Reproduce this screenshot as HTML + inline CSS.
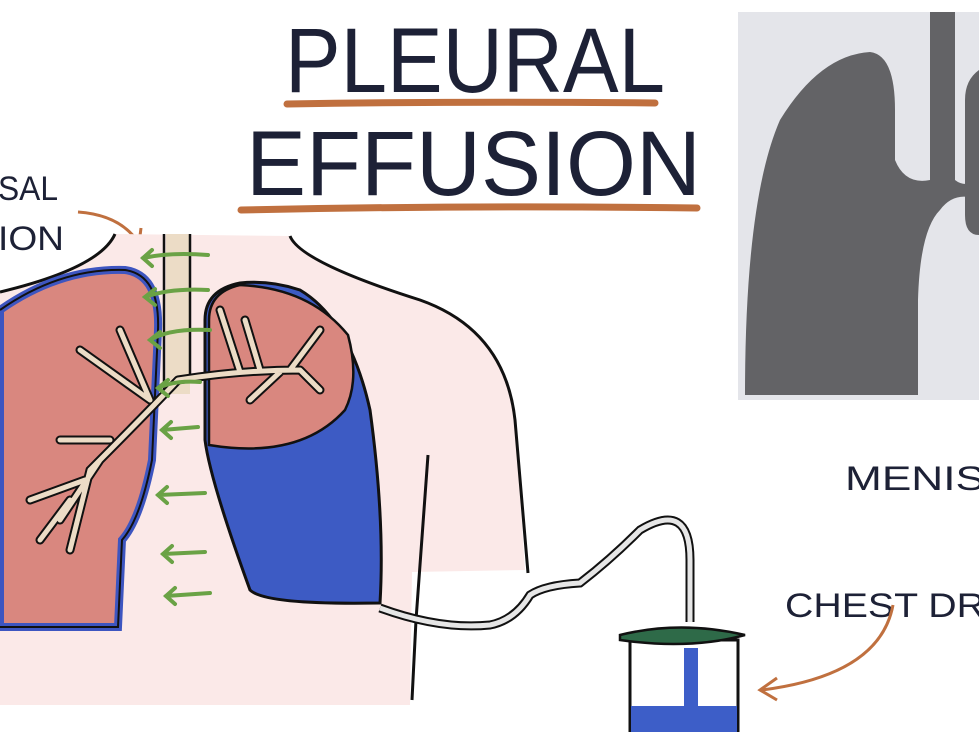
<!DOCTYPE html>
<html><head><meta charset="utf-8"><style>html,body{margin:0;padding:0;background:#fff}svg{display:block}</style></head>
<body>
<svg width="979" height="732" viewBox="0 0 979 732" xmlns="http://www.w3.org/2000/svg" font-family="Liberation Sans, sans-serif">
<rect width="979" height="732" fill="#fff"/>
<!-- title -->
<text x="285" y="92" font-size="92" textLength="380" lengthAdjust="spacingAndGlyphs" fill="#1d2136">PLEURAL</text>
<path d="M287 104 Q470 101 655 103" stroke="#c0703f" stroke-width="7" stroke-linecap="round" fill="none"/>
<text x="246" y="195" font-size="92" textLength="455" lengthAdjust="spacingAndGlyphs" fill="#1d2136">EFFUSION</text>
<path d="M241 210 Q470 205 697 208" stroke="#c0703f" stroke-width="7" stroke-linecap="round" fill="none"/>
<text x="-2" y="200" font-size="34" fill="#1d2136" textLength="60" lengthAdjust="spacingAndGlyphs">SAL</text>
<text x="-2" y="250" font-size="34" fill="#1d2136" textLength="66" lengthAdjust="spacingAndGlyphs">ION</text>
<path d="M78 212 Q120 215 138 242" stroke="#c0703f" stroke-width="3" fill="none"/>
<path d="M124 236 L139 244 L141 228" stroke="#c0703f" stroke-width="3" fill="none"/>
<!-- body -->
<path d="M0 292 Q100 268 115 234 L290 236 Q300 262 420 300 Q505 330 515 420 L525 570 L412 572 L410 705 L0 705 Z" fill="#fbe9e8"/>
<path d="M0 292 Q100 268 115 234" stroke="#111" stroke-width="3" fill="none"/>
<path d="M290 236 Q300 262 420 300 Q505 330 515 420 L528 573" stroke="#111" stroke-width="3" fill="none"/>
<path d="M428 455 L416 620 L412 700" stroke="#111" stroke-width="3" fill="none"/>
<!-- left lung -->
<path d="M0 310 Q60 268 125 270 Q160 275 158 330 L152 460 Q140 520 122 540 L118 627 L0 627 Z" fill="#d9877f" stroke="#3d55c0" stroke-width="8"/>
<path d="M0 310 Q60 268 125 270 Q160 275 158 330 L152 460 Q140 520 122 540 L118 627 L0 627" fill="none" stroke="#111" stroke-width="2"/>
<!-- trachea -->
<rect x="166" y="234" width="24" height="160" fill="#ecdcc6"/>
<path d="M164 234 V390 M190 234 V378" stroke="#111" stroke-width="2.5"/>
<!-- right lung -->
<path d="M240 283 Q205 290 205 320 L205 440 Q210 480 250 590 Q265 605 380 603 Q385 520 370 410 Q350 320 300 290 Q270 280 240 283 Z" fill="#3d5bc4" stroke="#111" stroke-width="3"/>
<path d="M240 285 Q209 292 209 320 L209 445 Q300 460 345 410 Q360 380 348 335 Q310 288 240 285 Z" fill="#d9877f" stroke="#111" stroke-width="2.5"/>
<!-- bronchi -->
<g stroke="#111" stroke-width="9" fill="none" stroke-linecap="round">
<path d="M178 380 Q140 420 90 470 M150 400 L120 330 M150 400 L80 350 M110 440 L60 440 M100 460 L60 520 M85 480 L30 500 M90 470 L70 550 M70 500 L40 540 M178 380 Q240 370 300 370 M240 372 L220 310 M260 370 L245 320 M290 370 L320 330 M280 372 L250 400 M300 370 L320 390"/>
</g>
<g stroke="#ecdcc6" stroke-width="5" fill="none" stroke-linecap="round">
<path d="M178 380 Q140 420 90 470 M150 400 L120 330 M150 400 L80 350 M110 440 L60 440 M100 460 L60 520 M85 480 L30 500 M90 470 L70 550 M70 500 L40 540 M178 380 Q240 370 300 370 M240 372 L220 310 M260 370 L245 320 M290 370 L320 330 M280 372 L250 400 M300 370 L320 390"/>
</g>
<!-- green arrows -->
<g stroke="#6aa245" stroke-width="4" fill="none" stroke-linecap="round">
<path d="M208 255 Q170 252 143 258 M152 250 L143 258 L152 266"/>
<path d="M208 290 Q170 288 145 297 M155 289 L145 297 L155 305"/>
<path d="M210 330 Q170 328 150 340 M160 332 L150 340 L160 348"/>
<path d="M200 382 Q175 380 158 388 M168 380 L158 388 L168 396"/>
<path d="M198 427 L162 430 M171 422 L162 430 L171 438"/>
<path d="M205 493 L158 495 M167 487 L158 495 L167 503"/>
<path d="M205 552 L163 554 M172 546 L163 554 L172 562"/>
<path d="M210 593 L166 596 M175 588 L166 596 L175 604"/>
</g>
<!-- drain tube -->
<path d="M380 608 Q440 630 490 625 Q515 620 530 595 Q545 585 580 583 Q610 560 640 530 Q690 500 690 560 L690 622" stroke="#111" stroke-width="9" fill="none"/>
<path d="M380 608 Q440 630 490 625 Q515 620 530 595 Q545 585 580 583 Q610 560 640 530 Q690 500 690 560 L690 622" stroke="#e6e6e6" stroke-width="5" fill="none"/>
<!-- bottle -->
<rect x="630" y="640" width="108" height="100" fill="#fff" stroke="#111" stroke-width="3"/>
<rect x="684" y="648" width="14" height="60" fill="#3d5ec8"/>
<rect x="631" y="706" width="106" height="30" fill="#3d5ec8"/>
<path d="M620 635 Q680 620 745 635 Q690 650 620 640 Z" fill="#2e6a48" stroke="#111" stroke-width="2.5"/>
<!-- x-ray -->
<rect x="738" y="12" width="241" height="388" fill="#e4e5ea"/>
<path d="M930 12 H955 V180 Q965 188 979 180 V200 Q955 190 940 210 Q920 230 918 300 L918 395 L745 395 Q745 200 780 120 Q820 55 870 52 Q895 55 895 110 V160 Q905 185 930 180 Z" fill="#636366"/>
<path d="M965 100 Q965 80 979 70 V235 Q965 235 965 215 Z" fill="#636366"/>
<!-- labels -->
<text x="845" y="490" font-size="34" fill="#1d2136" textLength="140" lengthAdjust="spacingAndGlyphs">MENIS</text>
<text x="785" y="617" font-size="34" fill="#1d2136" textLength="200" lengthAdjust="spacingAndGlyphs">CHEST DR</text>
<path d="M893 605 Q880 675 762 690" stroke="#c0703f" stroke-width="3" fill="none"/>
<path d="M777 678 L760 690 L777 700" stroke="#c0703f" stroke-width="3" fill="none"/>
</svg>
</body></html>
